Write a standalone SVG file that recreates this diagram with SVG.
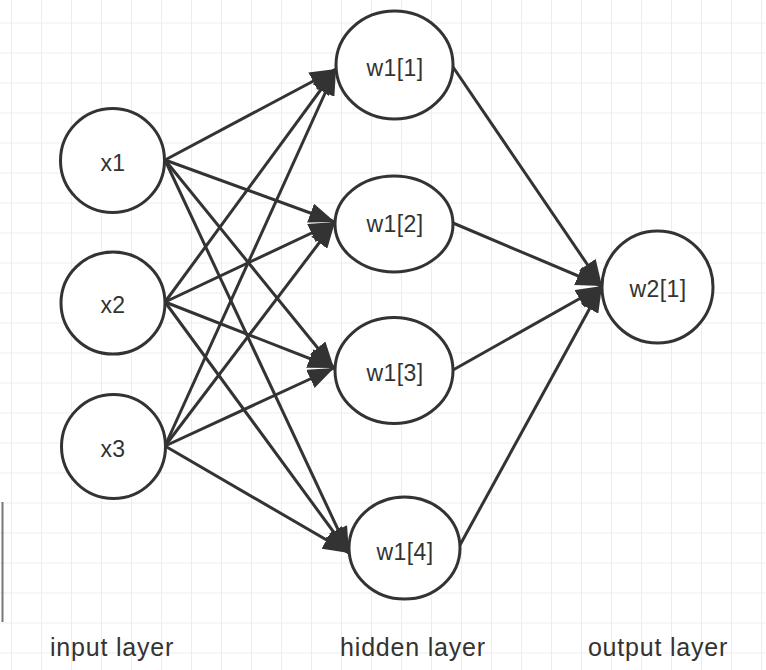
<svg xmlns="http://www.w3.org/2000/svg" width="766" height="670" viewBox="0 0 766 670">
  <defs>
    <pattern id="grid" x="11" y="22.5" width="30" height="30" patternUnits="userSpaceOnUse">
      <path d="M0,0 V30 M0,0 H30" fill="none" stroke="#e9e9e9" stroke-width="1.6"/>
    </pattern>
    <marker id="arrow" markerUnits="userSpaceOnUse" markerWidth="28" markerHeight="20" refX="26" refY="10" orient="auto" viewBox="0 0 28 20">
      <path d="M0,0 L26,10 L0,20 Z" fill="#333333"/>
    </marker>
  </defs>
  <style>
    .node { fill: #ffffff; stroke: #333333; stroke-width: 3; }
    .label { font-family: "Liberation Sans", Arial, sans-serif; font-size: 23px; fill: #333333; text-anchor: middle; letter-spacing: 0.4px; }
    .layer { font-family: "Liberation Sans", Arial, sans-serif; font-size: 25px; fill: #333333; text-anchor: middle; letter-spacing: 0.8px; }
    .edge { stroke: #333333; stroke-width: 3; fill: none; marker-end: url(#arrow); }
  </style>

  <rect x="0" y="0" width="766" height="670" fill="#ffffff"/>
  <rect x="0" y="0" width="766" height="670" fill="url(#grid)"/>
  <line x1="2.5" y1="502" x2="2.5" y2="622" stroke="#777777" stroke-width="2"/>

  <g id="connectors">
    <line class="edge" x1="165" y1="160" x2="336" y2="69"/>
    <line class="edge" x1="165" y1="160" x2="335" y2="222"/>
    <line class="edge" x1="165" y1="160" x2="334" y2="368"/>
    <line class="edge" x1="165" y1="160" x2="349" y2="553"/>
    <line class="edge" x1="165" y1="302" x2="336" y2="69"/>
    <line class="edge" x1="165" y1="302" x2="335" y2="222"/>
    <line class="edge" x1="165" y1="302" x2="334" y2="368"/>
    <line class="edge" x1="165" y1="302" x2="349" y2="553"/>
    <line class="edge" x1="165" y1="446" x2="336" y2="69"/>
    <line class="edge" x1="165" y1="446" x2="335" y2="222"/>
    <line class="edge" x1="165" y1="446" x2="334" y2="368"/>
    <line class="edge" x1="165" y1="446" x2="349" y2="553"/>
    <line class="edge" x1="453" y1="67" x2="602" y2="286"/>
    <line class="edge" x1="453" y1="223" x2="602" y2="286"/>
    <line class="edge" x1="453" y1="370" x2="602" y2="286"/>
    <line class="edge" x1="460" y1="545" x2="602" y2="286"/>
  </g>

  <g id="x1">
    <ellipse class="node" cx="112.5" cy="160.5" rx="52" ry="52"/>
    <text class="label" x="113" y="171">x1</text>
  </g>
  <g id="x2">
    <ellipse class="node" cx="113" cy="303" rx="52" ry="51"/>
    <text class="label" x="113" y="313">x2</text>
  </g>
  <g id="x3">
    <ellipse class="node" cx="113.5" cy="446.5" rx="52" ry="52"/>
    <text class="label" x="113" y="457">x3</text>
  </g>
  <g id="w1_1">
    <ellipse class="node" cx="394.5" cy="65" rx="58.5" ry="54"/>
    <text class="label" x="395" y="76">w1[1]</text>
  </g>
  <g id="w1_2">
    <ellipse class="node" cx="394" cy="224" rx="59" ry="48"/>
    <text class="label" x="395" y="232">w1[2]</text>
  </g>
  <g id="w1_3">
    <ellipse class="node" cx="394" cy="370.5" rx="59" ry="53"/>
    <text class="label" x="395" y="381">w1[3]</text>
  </g>
  <g id="w1_4">
    <ellipse class="node" cx="404.5" cy="548" rx="55.5" ry="51"/>
    <text class="label" x="405" y="560">w1[4]</text>
  </g>
  <g id="w2_1">
    <ellipse class="node" cx="657.5" cy="287" rx="55.5" ry="56"/>
    <text class="label" x="658" y="297">w2[1]</text>
  </g>

  <g id="layer-labels">
    <text class="layer" x="112" y="656">input layer</text>
    <text class="layer" x="413" y="656">hidden layer</text>
    <text class="layer" x="658" y="656">output layer</text>
  </g>
</svg>
